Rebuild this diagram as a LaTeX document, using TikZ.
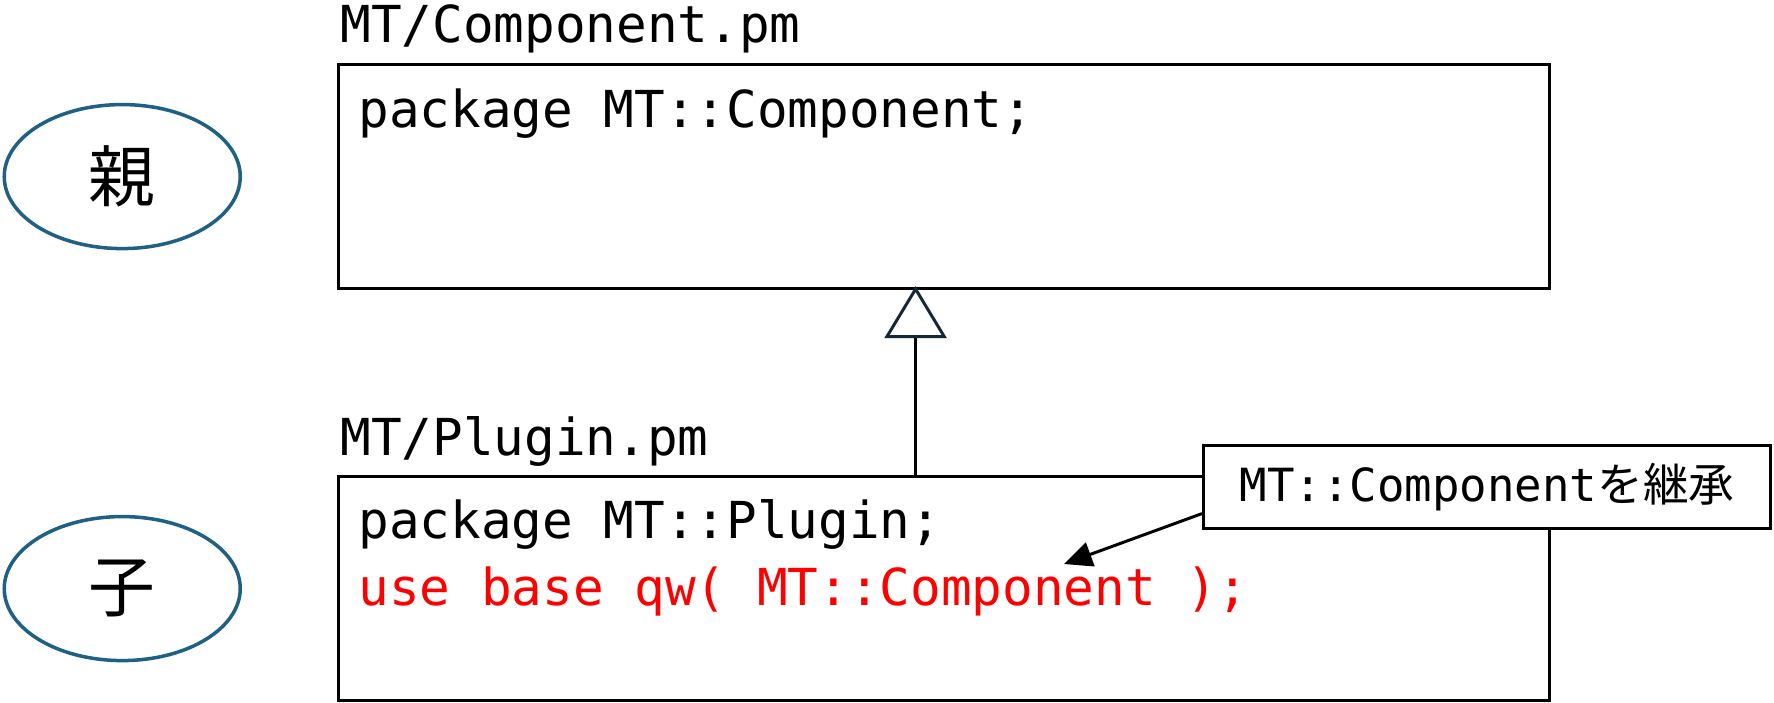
\documentclass[tikz,border=0pt]{standalone}
\usepackage{fontspec}
\setmonofont{DejaVu Sans Mono}
\newfontfamily\cjk{Noto Sans CJK JP}
\usepackage{xcolor}
\usepackage{tikz}
\usetikzlibrary{arrows.meta}
\usetikzlibrary{shapes,positioning}
\definecolor{roleBlue}{HTML}{1F6085}
\definecolor{tipDark}{HTML}{12293A}
\definecolor{codeRed}{HTML}{FF0000}
\tikzset{box-line/.style={line width=1.8pt}}
\tikzset{module-box/.style={draw, box-line, anchor=north west, minimum width=24.22cm, minimum height=4.48cm, inner sep=0}}
\tikzset{role-ellipse/.style={draw=roleBlue, ellipse, line width=2pt, minimum width=4.72cm, minimum height=2.88cm, inner sep=0, font=\cjk\fontsize{38}{40}\selectfont}}
\tikzset{file-label/.style={anchor=base west, inner sep=0, font=\ttfamily\fontsize{29}{32}\selectfont}}
\tikzset{code-line/.style={file-label}}
\tikzset{red-code/.style={code-line, text=codeRed}}
\tikzset{note-box/.style={draw, box-line, fill=white, anchor=north west, minimum width=11.34cm, minimum height=1.66cm, inner sep=0, font=\ttfamily\fontsize{26}{28}\selectfont}}
\tikzset{inherit-line/.style={line width=1.7pt, -{Triangle[open, length=1.04cm, width=1.24cm, color=tipDark]}}}
\tikzset{note-arrow/.style={line width=1.7pt, -{Triangle[length=0.56cm, width=0.5cm]}}}
\newcommand{\perlmodule}[4] {
    \node[module-box] (box#1) at #2 {};
    \node[role-ellipse, left=1.9cm of box#1] (role#1) {#3};
    \node[file-label] (file#1) at ([xshift=0.06cm, yshift=0.4cm]box#1.north west) {#4};
}
\begin{document}
\begin{tikzpicture}[]
            \useasboundingbox (0,0) rectangle (35.48,-14.06);
            \perlmodule{1}{(6.74,-1.26)}{親}{MT/Component.pm}
            \perlmodule{2}{(6.74,-9.5)}{子}{MT/Plugin.pm}

            \node[code-line] (pkg1) at ([xshift=0.42cm, yshift=-1.28cm]box1.north west) {package MT::Component;};
            \node[code-line] (pkg2) at ([xshift=0.42cm, yshift=-1.26cm]box2.north west) {package MT::Plugin;};
            \node[red-code] (use2) at ([yshift=-1.34cm]pkg2.base west) {use base qw( MT::Component );};

            \draw[inherit-line] ([xshift=-0.57cm]box2.north) -- ([xshift=-0.57cm, yshift=0.08cm]box1.south);

            \node[note-box] (note) at (24.04,-8.88) {MT::Component{\cjk を継承}};
            \coordinate (target) at (21.28,-11.28);
            \draw[note-arrow] ([yshift=-0.53cm]note.west) -- (target);
        \end{tikzpicture}
\end{document}
